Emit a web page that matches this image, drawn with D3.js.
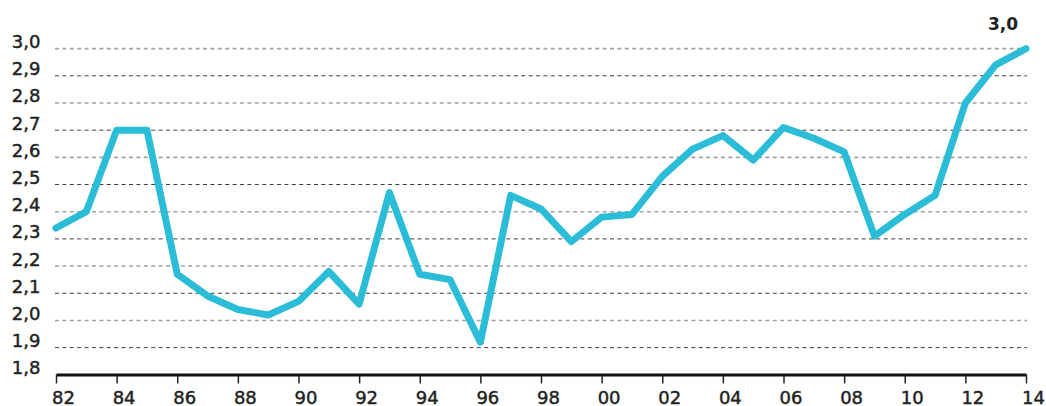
<!DOCTYPE html>
<html>
<head>
<meta charset="utf-8">
<script src="https://cdn.jsdelivr.net/npm/d3@7"></script>
<style>
  html, body { margin: 0; padding: 0; background: #fff; }
  svg { display: block; }
  text { font-family: "DejaVu Sans", sans-serif; fill: #222; }
</style>
</head>
<body>
<svg id="chart" width="1046" height="406"></svg>
<script>
// ---- data ----
const years = [1982,1983,1984,1985,1986,1987,1988,1989,1990,1991,1992,1993,1994,1995,1996,1997,1998,1999,2000,2001,2002,2003,2004,2005,2006,2007,2008,2009,2010,2011,2012,2013,2014];
const values = [2.34,2.40,2.70,2.70,2.17,2.09,2.04,2.02,2.07,2.18,2.06,2.47,2.17,2.15,1.92,2.46,2.41,2.29,2.38,2.39,2.53,2.63,2.68,2.59,2.71,2.67,2.62,2.31,2.39,2.46,2.80,2.94,3.00];
const yTickValues = [1.8,1.9,2.0,2.1,2.2,2.3,2.4,2.5,2.6,2.7,2.8,2.9,3.0];
const xTickYears = [1982,1984,1986,1988,1990,1992,1994,1996,1998,2000,2002,2004,2006,2008,2010,2012,2014];
const endLabel = "3,0";

const svg = d3.select("#chart");
const x = d3.scaleLinear().domain([1982, 2014]).range([56, 1026]);
const y = d3.scaleLinear().domain([1.8, 3.0]).range([374.8, 48.6]);
const fmt = v => d3.format(".1f")(v).replace(".", ",");

// gridlines (alternating appearance as in reference)
svg.append("g")
  .selectAll("line")
  .data(yTickValues.filter(v => v > 1.8))
  .join("line")
  .attr("x1", 55)
  .attr("x2", 1027)
  .attr("y1", d => Math.round(y(d) * 10) % 20 < 10 ? y(d) : y(d))
  .attr("y2", d => y(d))
  .attr("stroke", (d, i) => (Math.round(d * 10) % 2 === 0) ? "#a3a3a3" : "#3c3c3c")
  .attr("stroke-width", (d) => (Math.round(d * 10) % 2 === 0) ? 1.6 : 1)
  .attr("stroke-dasharray", "4,3.4");

// y labels
const yAxis = d3.axisLeft(y).tickValues(yTickValues).tickSize(0).tickPadding(0).tickFormat(fmt);
const gy = svg.append("g").attr("transform", "translate(40.5,0)").call(yAxis);
gy.select(".domain").remove();
gy.selectAll("text")
  .attr("dy", "-1px")
  .attr("dominant-baseline", "auto")
  .style("font-family", "DejaVu Sans, sans-serif")
  .style("font-size", "18px")
  .attr("fill", "#222")
  .attr("stroke", "#222")
  .attr("stroke-width", 0.45);

// line
const line = d3.line()
  .x((d, i) => x(years[i]))
  .y(d => y(d));
svg.append("path")
  .datum(values)
  .attr("d", line)
  .attr("fill", "none")
  .attr("stroke", "#2bbdd7")
  .attr("stroke-width", 7)
  .attr("stroke-linejoin", "round")
  .attr("stroke-linecap", "round");

// x axis
const xAxis = d3.axisBottom(x)
  .tickValues(xTickYears)
  .tickSize(9)
  .tickSizeOuter(0)
  .tickPadding(0)
  .tickFormat(d => String(d).slice(2));
const gx = svg.append("g").attr("transform", "translate(0,374.5)").call(xAxis);
gx.select(".domain").attr("stroke", "#111").attr("stroke-width", 3.2);
gx.selectAll(".tick line").attr("stroke", "#222").attr("stroke-width", 1.5);
gx.selectAll(".tick text")
  .attr("x", 7)
  .attr("y", 29)
  .attr("dy", null)
  .style("font-family", "DejaVu Sans, sans-serif")
  .style("font-size", "18px")
  .attr("fill", "#222")
  .attr("stroke", "#222")
  .attr("stroke-width", 0.45);

// end label
svg.append("text")
  .attr("x", x(years[years.length - 1]) - 8)
  .attr("y", y(values[values.length - 1]) - 19)
  .attr("text-anchor", "end")
  .style("font-family", "DejaVu Sans, sans-serif")
  .style("font-size", "17px")
  .style("font-weight", "bold")
  .attr("fill", "#222")
  .text(endLabel);
</script>
</body>
</html>
